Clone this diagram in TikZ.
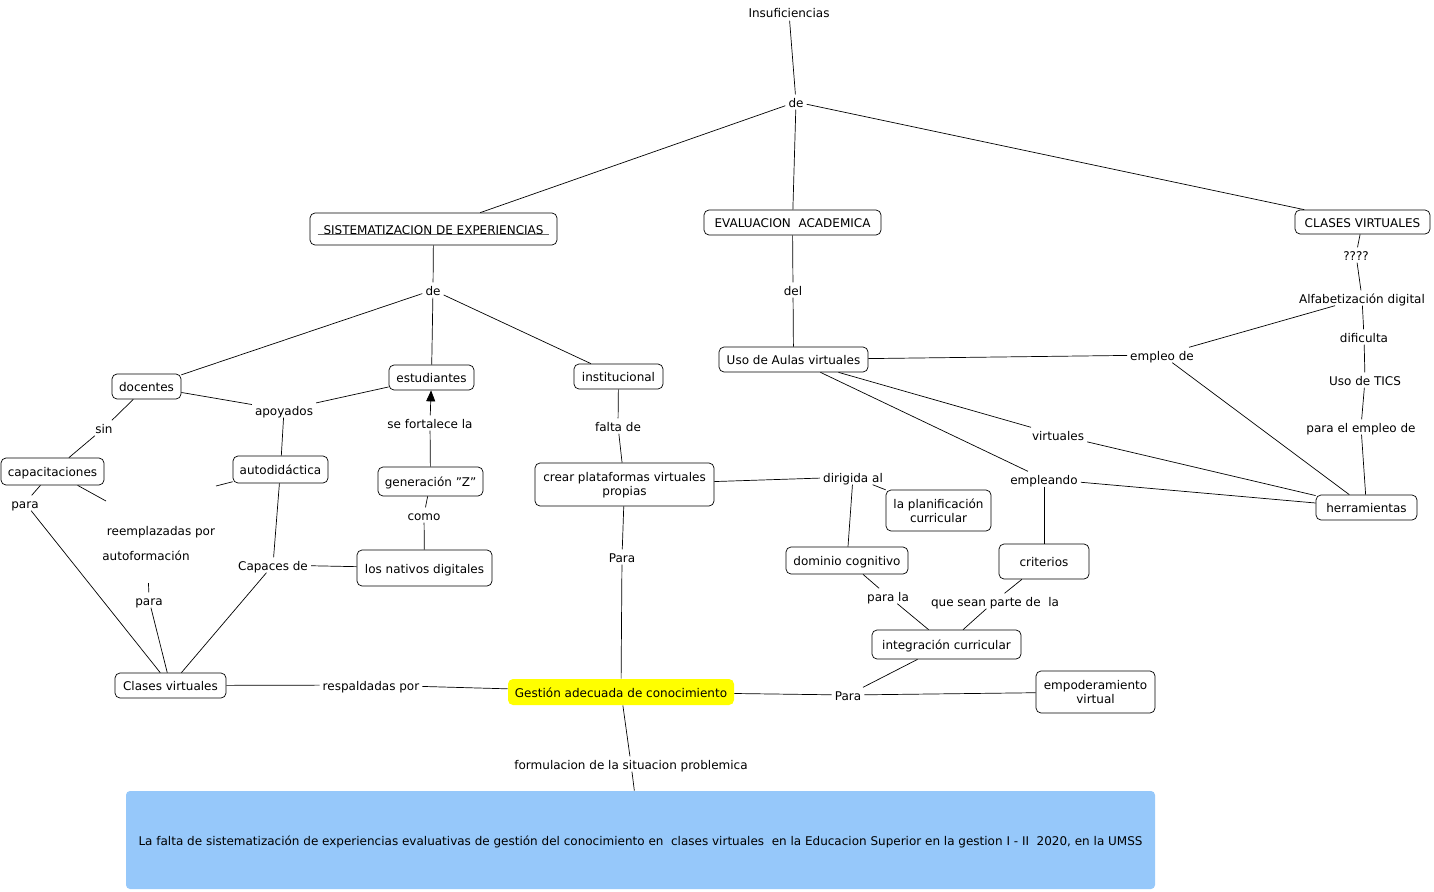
\documentclass[tikz,border=0pt]{standalone}
\usepackage{fontspec}
\setmainfont{DejaVu Sans}
\usetikzlibrary{arrows.meta}
\definecolor{boxblue}{RGB}{150,200,250}
\definecolor{gyellow}{RGB}{255,255,0}
\begin{document}
\begin{tikzpicture}[x=1pt,y=-1pt,font=\fontsize{12}{14}\selectfont,
  concept/.style={draw, rounded corners=5pt, fill=white, inner sep=0pt, align=center, line width=0.7pt},
  one/.style={text height=11.5pt, text depth=1.5pt},
  link/.style={inner xsep=3pt, inner ysep=1pt, text height=11.5pt, text depth=1.5pt},
  conn/.style={draw, line width=0.7pt},
  ul/.style={draw=gray!80!black, line width=1.4pt}]
\useasboundingbox (0,0) rectangle (1434,891);
% concepts
\node[concept,one,minimum width=247pt,minimum height=32pt] (sis) at (433.5,229) {SISTEMATIZACION DE EXPERIENCIAS};
\node[concept,one,minimum width=177pt,minimum height=25pt] (eva) at (792.5,222.5) {EVALUACION\ \ ACADEMICA};
\node[concept,one,minimum width=135pt,minimum height=24pt] (cla) at (1362.5,222) {CLASES VIRTUALES};
\node[concept,one,minimum width=69pt,minimum height=25pt] (doc) at (146.5,386.5) {docentes};
\node[concept,one,minimum width=85pt,minimum height=25pt] (est) at (431.5,377.5) {estudiantes};
\node[concept,one,minimum width=89pt,minimum height=25pt] (ins) at (618.5,376.5) {institucional};
\node[concept,one,minimum width=103pt,minimum height=27pt] (cap) at (52.5,471.5) {capacitaciones};
\node[concept,one,minimum width=95pt,minimum height=27pt] (aut) at (280.5,469.5) {autodidáctica};
\node[concept,one,minimum width=105pt,minimum height=29pt] (gen) at (430.5,481.5) {generación "Z"};
\node[concept,one,minimum width=135pt,minimum height=36pt] (nat) at (424.5,568) {los nativos digitales};
\node[concept,minimum width=179pt,minimum height=43pt] (cre) at (624.5,484.5) {\rule{0pt}{11pt}crear plataformas virtuales\\propias};
\node[concept,one,minimum width=149pt,minimum height=25pt] (uso) at (793.5,359.5) {Uso de Aulas virtuales};
\node[concept,one,minimum width=101pt,minimum height=25pt] (her) at (1366.5,507.5) {herramientas};
\node[concept,minimum width=105pt,minimum height=41pt] (pla) at (938.5,510.5) {\rule{0pt}{11pt}la planificación\\curricular};
\node[concept,one,minimum width=122pt,minimum height=27pt] (dom) at (847,560.5) {dominio cognitivo};
\node[concept,one,minimum width=90pt,minimum height=35pt] (cri) at (1044,561.5) {criterios};
\node[concept,one,minimum width=149pt,minimum height=29pt] (int) at (946.5,644.5) {integración curricular};
\node[concept,minimum width=119pt,minimum height=42pt] (emp) at (1095.5,692) {\rule{0pt}{11pt}empoderamiento\\virtual\rule[-3pt]{0pt}{3pt}};
\node[concept,one,minimum width=111pt,minimum height=25pt] (clv) at (170.5,685.5) {Clases virtuales};
\node[concept,one,draw=none,fill=gyellow,minimum width=226pt,minimum height=26pt] (ges) at (621,692) {Gestión adecuada de conocimiento};
\node[concept,one,draw=none,fill=boxblue,rounded corners=4pt,minimum width=1029pt,minimum height=98pt] (bot) at (640.5,840) {La falta de sistematización de experiencias evaluativas de gestión del conocimiento en\ \ clases virtuales\ \ en la Educacion Superior en la gestion I - II\ \ 2020, en la UMSS};
\draw[ul] ([shift={(8,5.5)}]sis.west) -- ([shift={(-8,5.5)}]sis.east);
% linking phrases
\node[link] (insu) at (789,13) {Insuficiencias};
\node[link] (de1) at (796,102) {de};
\node[link] (de2) at (433,290) {de};
\node[link] (del) at (793,290) {del};
\node[link] (q) at (1356,255) {????};
\node[link] (alf) at (1362,298) {Alfabetización digital};
\node[link] (dif) at (1364,337) {dificulta};
\node[link] (tic) at (1365,380) {Uso de TICS};
\node[link] (pem) at (1361,427) {para el empleo de};
\node[link] (emd) at (1162,355) {empleo de};
\node[link] (vir) at (1058,435) {virtuales};
\node[link] (empl) at (1044,479) {empleando};
\node[link] (sin) at (104,428) {sin};
\node[link] (apo) at (284,410) {apoyados};
\node[link] (sef) at (430,423) {se fortalece la};
\node[link] (como) at (424,515) {como};
\node[link] (fal) at (618,426) {falta de};
\node[link] (para1) at (25,503) {para};
\node[link] (reem) at (161,530) {reemplazadas por};
\node[link] (autof) at (146,555) {autoformación};
\node[link] (para2) at (149,600) {para};
\node[link] (capd) at (273,565) {Capaces de};
\node[link] (para3) at (622,557) {Para};
\node[link] (dir) at (853,477) {dirigida al};
\node[link] (parala) at (888,596) {para la};
\node[link] (qsp) at (995,601) {que sean parte de\ \ la};
\node[link] (resp) at (371,685) {respaldadas por};
\node[link] (para4) at (848,695) {Para};
\node[link] (form) at (631,764) {formulacion de la situacion problemica};
% free ends
\coordinate (r1) at (106,501);
\coordinate (r2) at (216,486);
\coordinate (r3) at (148.5,583);
% connectors
\path[conn] (insu) -- (de1);
\path[conn] (de1) -- (sis);
\path[conn] (de1) -- (eva);
\path[conn] (de1) -- (cla);
\path[conn] (sis) -- (de2);
\path[conn] (de2) -- (doc);
\path[conn] (de2) -- (est);
\path[conn] (de2) -- (ins);
\path[conn] (eva) -- (del);
\path[conn] (del) -- (uso);
\path[conn] (cla) -- (q);
\path[conn] (q) -- (alf);
\path[conn] (alf) -- (dif);
\path[conn] (dif) -- (tic);
\path[conn] (tic) -- (pem);
\path[conn] (pem) -- (her);
\path[conn] (alf) -- (emd);
\path[conn] (uso) -- (emd);
\path[conn] (emd) -- (her);
\path[conn] (uso) -- (vir);
\path[conn] (vir) -- (her);
\path[conn] (uso) -- (empl);
\path[conn] (empl) -- (her);
\path[conn] (empl) -- (cri);
\path[conn] (cri) -- (qsp);
\path[conn] (qsp) -- (int);
\path[conn] (doc) -- (sin);
\path[conn] (sin) -- (cap);
\path[conn] (doc) -- (apo);
\path[conn] (apo) -- (est);
\path[conn] (apo) -- (aut);
\path[conn] (cap) -- (r1);
\path[conn] (aut) -- (r2);
\path[conn] (para2) -- (r3);
\path[conn] (cap) -- (para1);
\path[conn] (para1) -- (clv);
\path[conn] (para2) -- (clv);
\path[conn] (capd) -- (aut);
\path[conn] (capd) -- (clv);
\path[conn] (nat) -- (capd);
\path[conn] (gen) -- (sef);
\path[conn,-{Triangle[length=11pt,width=9pt]}] (sef) -- (est);
\path[conn] (nat) -- (como);
\path[conn] (como) -- (gen);
\path[conn] (cre) -- (fal);
\path[conn] (fal) -- (ins);
\path[conn] (cre) -- (para3);
\path[conn] (para3) -- (ges);
\path[conn] (cre) -- (dir);
\path[conn] (dir) -- (pla);
\path[conn] (dir) -- (dom);
\path[conn] (dom) -- (parala);
\path[conn] (parala) -- (int);
\path[conn] (int) -- (para4);
\path[conn] (ges) -- (para4);
\path[conn] (para4) -- (emp);
\path[conn] (clv) -- (resp);
\path[conn] (resp) -- (ges);
\path[conn] (ges) -- (form);
\path[conn] (form) -- (bot);
\end{tikzpicture}
\end{document}
